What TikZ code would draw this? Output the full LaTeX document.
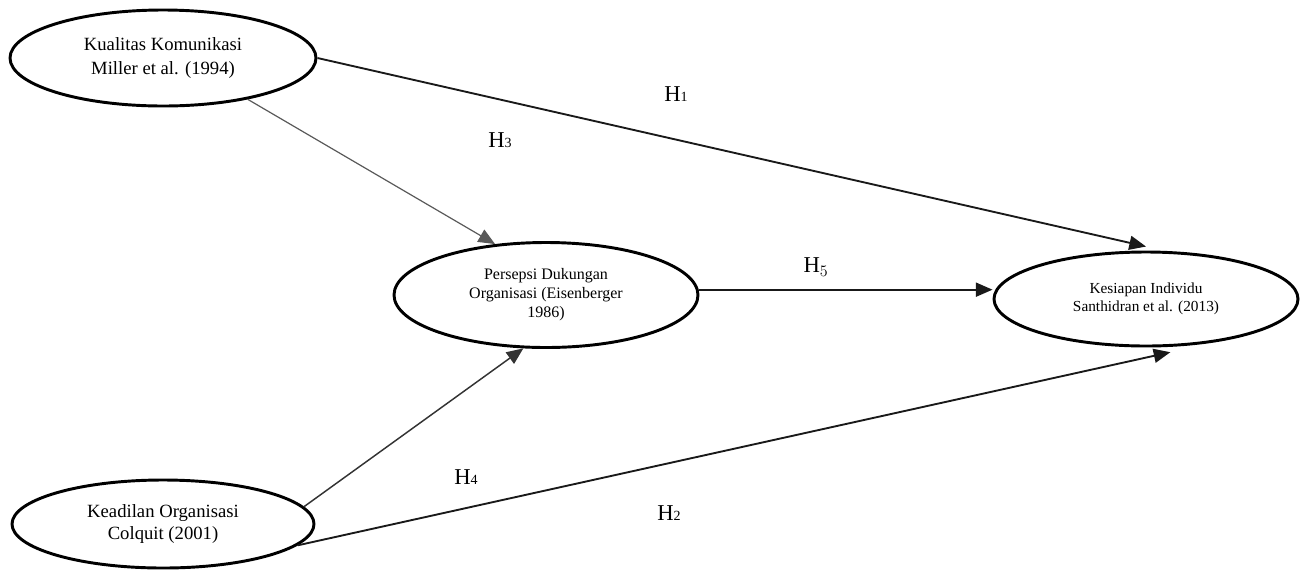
\documentclass[tikz,border=0pt]{standalone}
\usepackage{fontspec}
\setmainfont{Liberation Serif}
\usetikzlibrary{shapes.geometric,arrows.meta}
\begin{document}
\begin{tikzpicture}[x=0.75pt,y=-0.75pt,
  latent/.style={ellipse,draw=black,line width=2.2pt,fill=white,inner sep=0pt,align=center},
  conn/.style={line width=1.4pt,draw=black!90,-{Triangle[length=12.5pt,width=10.5pt]}},
  thinconn/.style={line width=0.9pt,draw=black!65,-{Triangle[length=12.5pt,width=10.5pt]}},
  hlab/.style={inner sep=0pt,font=\fontsize{17}{19}\selectfont}]
\useasboundingbox (0,0) rectangle (1302,569);
\node[latent,minimum width=229.5pt,minimum height=72pt,font=\fontsize{14}{18}\selectfont] (kk) at (163,58) {Kualitas Komunikasi\\Miller et al. (1994)};
\node[latent,minimum width=228pt,minimum height=78.75pt,font=\fontsize{12}{14.2}\selectfont] (pd) at (546,295) {Persepsi Dukungan\\Organisasi (Eisenberger\\1986)};
\node[latent,minimum width=228pt,minimum height=70.5pt,font=\fontsize{11.5}{13.5}\selectfont] (ki) at (1146,299) {Kesiapan Individu\\Santhidran et al. (2013)};
\node[latent,minimum width=226.5pt,minimum height=66pt,font=\fontsize{14}{16.5}\selectfont] (ko) at (163,524) {Keadilan Organisasi\\Colquit (2001)};
\draw[conn] (kk.east) -- ([yshift=3pt]ki.north);
\draw[thinconn] (kk.-26.6) -- (pd.135);
\draw[conn] (pd.2.2) -- (pd.2.2 -| ki.west);
\draw[thinconn,line width=1.1pt,draw=black!80] (ko.7.8) -- (pd.-113.5);
\draw[conn] (ko.-9.5) -- ([yshift=-4pt]ki.-63.4);
\node[hlab] (h1) at (676,94) {H{\fontsize{10.5}{10.5}\selectfont 1}};
\node[hlab] (h3) at (500,140) {H{\fontsize{10.5}{10.5}\selectfont 3}};
\node[hlab] (h5) at (816,267) {H$_{\fontsize{13}{13}\selectfont 5}$};
\node[hlab] (h4) at (466,477) {H{\fontsize{10.5}{10.5}\selectfont 4}};
\node[hlab] (h2) at (669,513) {H{\fontsize{10.5}{10.5}\selectfont 2}};
\end{tikzpicture}
\end{document}
